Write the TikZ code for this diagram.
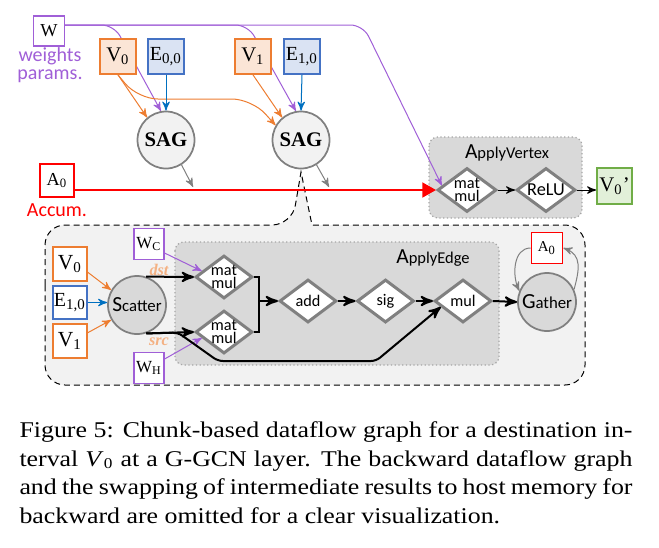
\documentclass[tikz,border=0pt]{standalone}
\usepackage{fontspec}
\setmainfont{Liberation Serif}
\setsansfont{Carlito}
\newfontfamily\capfont[FakeStretch=1.15]{Liberation Serif}
\usepackage{tikz}
\usetikzlibrary{arrows,arrows.meta,positioning,shapes.geometric}

\pgfdeclarelayer{panels}
\pgfdeclarelayer{wires}
\pgfsetlayers{panels,wires,main}

\definecolor{wpurple}{RGB}{160,95,215}
\definecolor{vorange}{RGB}{237,125,49}
\definecolor{vfill}{RGB}{251,229,214}
\definecolor{eblue}{RGB}{68,114,196}
\definecolor{eline}{RGB}{0,112,192}
\definecolor{efill}{RGB}{218,227,243}
\definecolor{ogreen}{RGB}{112,173,71}
\definecolor{ofill}{RGB}{226,240,217}
\definecolor{lgray}{RGB}{242,242,242}
\definecolor{mgray}{RGB}{217,217,217}
\definecolor{dgray}{RGB}{128,128,128}
\definecolor{accred}{RGB}{255,0,0}
\definecolor{dstorange}{RGB}{244,177,131}

\newcommand{\pxu}{0.4pt}
\newcommand{\fsz}[1]{\fontsize{#1}{#1}\selectfont}
\newcommand{\firstbig}[2]{{\fsz{8.6}#1}#2}

\begin{document}
\begin{tikzpicture}[x=0.4pt,y=-0.4pt,>=stealth',node distance=31pt,on grid,semithick]
\tikzstyle{bx} = [rectangle,draw,line width=0.7pt,inner sep=0pt,fill=white]
\tikzstyle{vb} = [bx,draw=vorange,fill=vfill,minimum width=36*\pxu,minimum height=35*\pxu,font=\fsz{8.3}]
\tikzstyle{eb} = [bx,draw=eblue,fill=efill,minimum width=36*\pxu,minimum height=35*\pxu,font=\fsz{8}]
\tikzstyle{sag} = [circle,draw=dgray,line width=0.7pt,fill=lgray,minimum size=57*\pxu,inner sep=0pt,font=\bfseries\fsz{8.3}]
\tikzstyle{op} = [diamond,draw=dgray,line width=1.2pt,fill=white,minimum width=57*\pxu,minimum height=43*\pxu,inner sep=-2pt,align=center,font=\sffamily\fontsize{6.5}{5.4}\selectfont]
\tikzstyle{hub} = [circle,draw=dgray,line width=0.7pt,fill=mgray,minimum size=58*\pxu,inner sep=0pt,font=\sffamily\fsz{6.7}]
\tikzstyle{ttl} = [font=\sffamily\fsz{6.6}]
\tikzstyle{panel} = [draw=gray!70,densely dotted,fill=mgray,rounded corners=3.5pt,line width=0.5pt]
\tikzset{wline/.style={->,wpurple,rounded corners=5pt}}
\tikzset{flow/.style={->,thick}}
\tikzset{lbl/.style={dstorange,font=\bfseries\itshape\fsz{6.5}}}

    \useasboundingbox (0,0) rectangle (659,547);

    % top row
    \node[bx,draw=wpurple,minimum width=31*\pxu,minimum height=30*\pxu,font=\fsz{7.3}] (W) at (49,31) {W};
    \node[wpurple,align=center,font=\sffamily\fontsize{8}{7}\selectfont] (wlbl) at (50,65) {weights\\params.};
    \node[vb] (V0) at (118,56.5) {V\textsubscript{0}};
    \node[eb] (E00) at (166,56.5) {E\textsubscript{0,0}};
    \node[vb] (V1) at (253,56.5) {V\textsubscript{1}};
    \node[eb] (E10) at (302,56.5) {E\textsubscript{1,0}};
    \node[sag] (sag0) at (166,140) {SAG};
    \node[sag] (sag1) at (301,140) {SAG};
    \node[bx,draw=accred,minimum width=34*\pxu,minimum height=33*\pxu,font=\fsz{7.3}] (A0) at (57,180.5) {A\textsubscript{0}};
    \node[accred,font=\sffamily\fsz{8}] (acc) at (57,210) {Accum.};

    \node[ttl] (avt) at (507,153) {\firstbig{A}{pplyVertex}};
    \node[op,minimum width=59*\pxu,minimum height=44*\pxu] (avmm) at (467,190) {mat\\mul};
    \node[op,minimum width=59*\pxu,minimum height=44*\pxu,font=\sffamily\fsz{7.3}] (relu) at (546,190) {ReLU};
    \node[bx,draw=ogreen,fill=ofill,minimum width=35*\pxu,minimum height=36*\pxu,font=\fsz{8.3}] (V0p) at (614.5,186) {V\textsubscript{0}’};

    % chunk detail
    \node[bx,draw=vorange,minimum width=34*\pxu,minimum height=34*\pxu,font=\fsz{8.6}] (iV0) at (70,264) {V\textsubscript{0}};
    \node[bx,draw=eblue,minimum width=34*\pxu,minimum height=33*\pxu,font=\fsz{8}] (iE10) at (70,302.5) {E\textsubscript{1,0}};
    \node[bx,draw=vorange,minimum width=34*\pxu,minimum height=34*\pxu,font=\fsz{8.6}] (iV1) at (70,341) {V\textsubscript{1}};
    \node[hub] (sc) at (137,305) {\firstbig{S}{catter}};
    \node[bx,draw=wpurple,minimum width=30*\pxu,minimum height=31*\pxu,font=\fsz{6.8}] (WC) at (149,244) {W\textsubscript{C}};
    \node[bx,draw=wpurple,minimum width=30*\pxu,minimum height=31*\pxu,font=\fsz{6.8}] (WH) at (149,368) {W\textsubscript{H}};
    \node[lbl] (dst) at (159,270) {dst};
    \node[lbl] (src) at (159,342) {src};

    \node[ttl] (aet) at (433,258) {\firstbig{A}{pplyEdge}};
    \node[op] (mm1) at (224,277) {mat\\mul};
    \node[op] (mm2) at (224,332) {mat\\mul};
    \node[op] (add) at (308,301) {add};
    \node[op] (sig) [right=of add] {sig};
    \node[op] (mul) [right=of sig] {mul};
    \node[hub] (ga) at (547,302) {\firstbig{G}{ather}};
    \node[bx,draw=accred,minimum width=31*\pxu,minimum height=31*\pxu,font=\fsz{6}] (iA0) at (547,248) {A\textsubscript{0}};

    \coordinate (wrow) at (64,25);
    \coordinate (s0out) at (193,187);
    \coordinate (s1out) at (329,187);
    \coordinate (join) at (259,301);

    \begin{pgfonlayer}{panels}
    \draw[dash pattern=on 2.4pt off 1.6pt,fill=lgray,thin] (45,305) [rounded corners=8pt] |- (292,225) [sharp corners] -- (301,172) -- (312,225) [rounded corners=8pt] -| (585,305) |- (45,385) -- cycle;
    \draw[panel] (429,137) rectangle (582,218);
    \draw[panel] (175,242) rectangle (499,365);
    \end{pgfonlayer}

    \begin{pgfonlayer}{wires}
    \draw[wline] (wrow) -- (114,25) -- (sag0.100);
    \draw[wline] (wrow) -- (248,25) -- (sag1.100);
    \draw[wline] (wrow) -- (363,25) -- (avmm.170);
    \end{pgfonlayer}

    \draw[->,vorange] (V0.south) -- (sag0.130);
    \draw[->,vorange,rounded corners=8pt] (V0.south) -- (138,99) -- (252,99) -- (sag1.150);
    \draw[->,vorange] (V1.south) -- (sag1.130);
    \draw[->,eline] (E00.south) -- (sag0.north);
    \draw[->,eline] (E10.south) -- (sag1.north);
    \draw[->,dgray] (sag0.-58) -- (s0out);
    \draw[->,dgray] (sag1.-58) -- (s1out);
    \draw[accred,thick,-{Triangle[length=5.5pt,width=6pt]}] (A0.east |- avmm.west) -- (avmm.west);
    \draw[->] (avmm.east) -- (relu.west);
    \draw[->] (relu.east) -- (relu.east -| V0p.west);

    \draw[->,vorange] (iV0.-25) -- (sc.150);
    \draw[->,eline] (iE10.east) -- (iE10.east -| sc.west);
    \draw[->,vorange] (iV1.25) -- (sc.210);
    \draw[->,wpurple] (WC.-30) -- (mm1.165);
    \draw[->,wpurple] (WH.30) -- (mm2.195);
    \draw[flow] (sc.72) -- (mm1.west);
    \draw[flow] (sc.-72) -- (mm2.west);
    \draw[flow,rounded corners=2pt] (sc.-72) -- (178,332.6) -- (218,361) -- (376,361) -- (mul.195);
    \draw[thick] (mm1.east) -| (join);
    \draw[thick] (mm2.east) -| (join);
    \draw[flow] (join) -- (add.west);
    \draw[flow] (add.east) -- (sig.west);
    \draw[flow] (sig.east) -- (mul.west);
    \draw[flow] (mul.east) -- (ga.west);
    \draw[->,dgray] (iA0.west) to[out=180,in=115] (ga.158);
    \draw[->,dgray] (ga.25) to[out=75,in=-20,looseness=1.2] (iA0.east);

    \node[anchor=north west,inner sep=0pt,text width=245.2pt,align=justify,font=\capfont\fontsize{9}{11.4}\selectfont] (cap) at (19,421.5) {Figure 5: Chunk-based dataflow graph for a destination in-\linebreak terval \textit{V}\textsubscript{0} at a G-GCN layer. The backward dataflow graph\linebreak and the swapping of intermediate results to host memory for\linebreak backward are omitted for a clear visualization.};
\end{tikzpicture}
\end{document}
